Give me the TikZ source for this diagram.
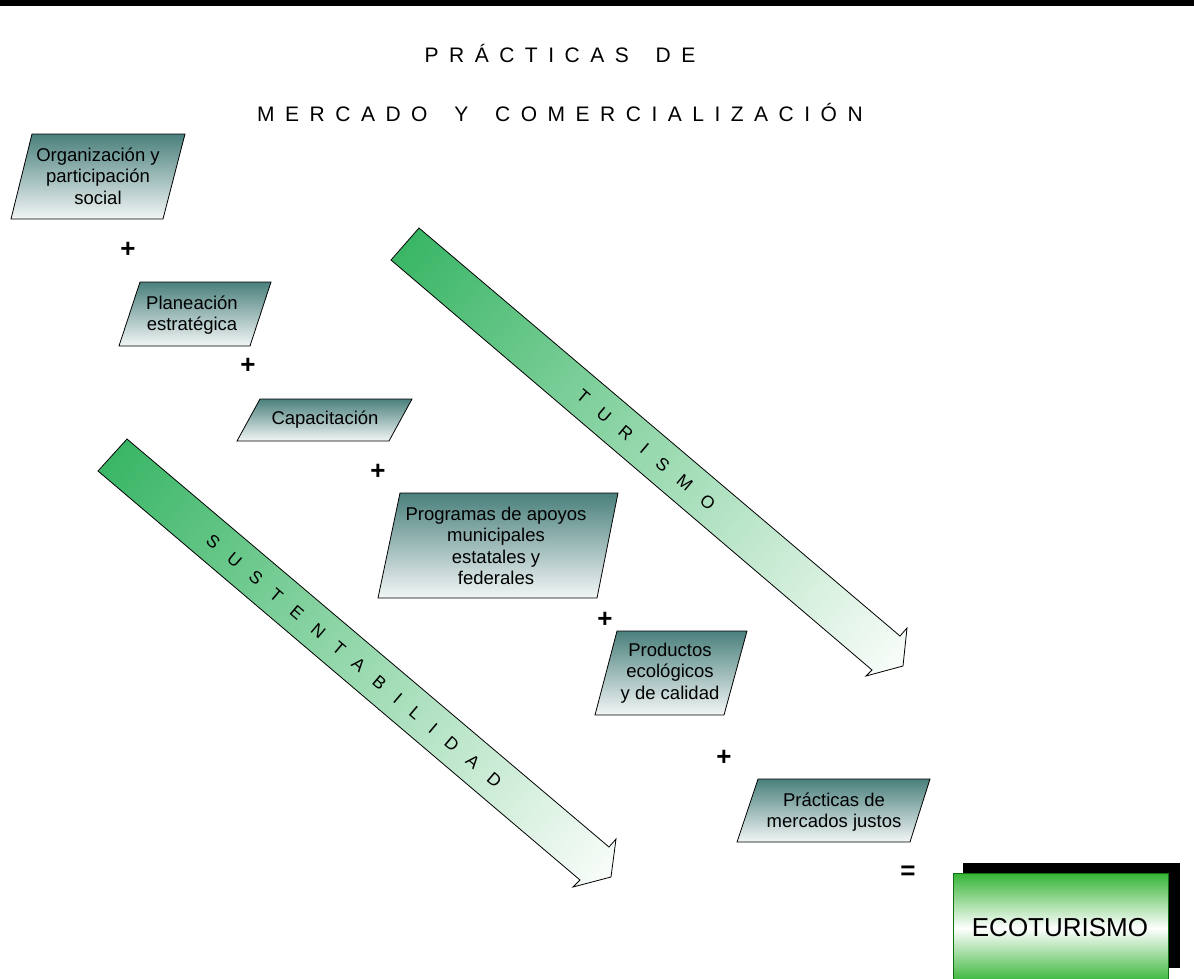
\documentclass[tikz,border=0pt]{standalone}
\usepackage{fontspec}
\setmainfont{Liberation Sans}
\newfontfamily\trackA[LetterSpace=50]{Liberation Sans}
\newfontfamily\trackB[LetterSpace=90]{Liberation Sans}
\definecolor{paratop}{RGB}{74,128,124}
\definecolor{parabot}{RGB}{242,246,246}
\definecolor{arrgreen}{RGB}{58,182,102}
\definecolor{arrwhite}{RGB}{250,253,250}
\definecolor{ecogreen}{RGB}{52,180,52}
\definecolor{ecoborder}{RGB}{20,110,20}
\begin{document}
\begin{tikzpicture}[x=1pt,y=1pt,
  para/.style={draw=black, line width=0.8pt, top color=paratop, bottom color=parabot},
  lab/.style={font=\fontsize{18.5}{21.5}\selectfont, align=center, inner sep=0pt},
  op/.style={font=\fontsize{26}{26}\selectfont\bfseries, inner sep=0pt},
  arrowline/.style={draw=black, line width=0.8pt},
  arrowfill/.style={left color=arrgreen, right color=arrwhite},
  titletext/.style={font=\fontsize{21}{21}\trackA, inner sep=0pt},
  arrowtext/.style={font=\fontsize{17.5}{17.5}\trackB, inner sep=0pt, rotate=-40.3}]
\useasboundingbox (0,0) rectangle (1194,-978);
% top bar
\fill[black] (0,0) rectangle (1194,-6);
% title
\node[titletext] (t1) at (560,-53) {PRÁCTICAS\hspace{10.5pt} DE};
\node[titletext] (t2) at (560,-112) {MERCADO\hspace{10.5pt} Y\hspace{10.5pt} COMERCIALIZACIÓN};
% big arrow: turismo
\begin{scope}
  \clip (419,-228) -- (900,-636) -- (907,-628) -- (903,-666) -- (866,-676) -- (872,-670) -- (391,-260) -- cycle;
  \begin{scope}[transform canvas={shift={(405,-244)}, rotate=-40.3}]
    \shade[arrowfill] (0,-45) rectangle (655,45);
  \end{scope}
\end{scope}
\path[arrowline] (419,-228) -- (900,-636) -- (907,-628) -- (903,-666) -- (866,-676) -- (872,-670) -- (391,-260) -- cycle;
% big arrow: sustentabilidad
\begin{scope}
  \clip (127,-439) -- (609,-847) -- (616,-839) -- (611,-877) -- (573,-887) -- (580,-880) -- (98,-471) -- cycle;
  \begin{scope}[transform canvas={shift={(112.5,-455)}, rotate=-40.3}]
    \shade[arrowfill] (0,-45) rectangle (655,45);
  \end{scope}
\end{scope}
\path[arrowline] (127,-439) -- (609,-847) -- (616,-839) -- (611,-877) -- (573,-887) -- (580,-880) -- (98,-471) -- cycle;
\node[arrowtext] (tur) at (646,-450) {TURISMO};
\node[arrowtext] (sus) at (354,-661) {SUSTENTABILIDAD};
% parallelograms
\path[para] (32,-134) -- (185,-134) -- (163,-219) -- (11,-219) -- cycle;
\node[lab] (p1) at (98,-176) {Organización y\\participación\\social};
\path[para] (140,-282) -- (271,-282) -- (250,-346) -- (119,-346) -- cycle;
\node[lab] (p2) at (192,-315) {Planeación\\estratégica};
\path[para] (260,-399) -- (412,-399) -- (389,-441) -- (237,-441) -- cycle;
\node[lab] (p3) at (325,-420) {Capacitación};
\path[para] (400,-493) -- (618,-493) -- (597,-598) -- (378,-598) -- cycle;
\node[lab] (p4) at (496,-546) {Programas de apoyos\\municipales\\estatales y\\federales};
\path[para] (617,-631) -- (747,-631) -- (724,-715) -- (595,-715) -- cycle;
\node[lab] (p5) at (670,-673) {Productos\\ecológicos\\y de calidad};
\path[para] (758,-779) -- (930,-779) -- (910,-842) -- (737,-842) -- cycle;
\node[lab] (p6) at (834,-812) {Prácticas de\\mercados justos};
% operators
\node[op] (o1) at (128,-250) {+};
\node[op] (o2) at (248,-366) {+};
\node[op] (o3) at (378,-472) {+};
\node[op] (o4) at (605,-620) {+};
\node[op] (o5) at (724,-758) {+};
\node[op] (eq) at (908,-873) {=};
% result box
\fill[black] (963,-863) rectangle (1180,-968);
\path[draw=ecoborder, line width=0.8pt, top color=ecogreen, bottom color=ecogreen, middle color=white] (953,-873) rectangle (1168,-983);
\node[font=\fontsize{26}{26}\selectfont, inner sep=0pt] (eco) at (1060,-928) {ECOTURISMO};
\end{tikzpicture}
\end{document}
